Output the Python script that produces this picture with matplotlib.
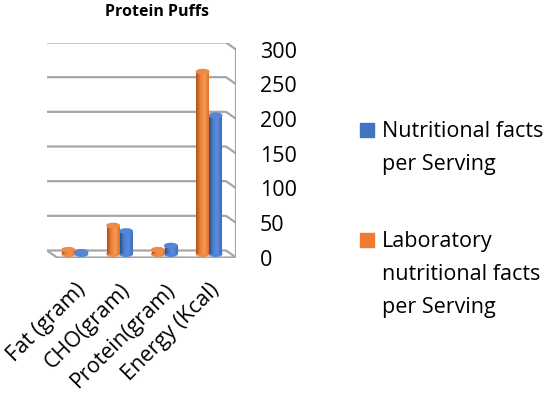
import numpy as np
import matplotlib.pyplot as plt
from matplotlib.colors import LinearSegmentedColormap
from matplotlib.patches import Ellipse, Rectangle

categories = ["Fat (gram)", "CHO(gram)", "Protein(gram)", "Energy (Kcal)"]
lab_values = [6, 41, 6, 263]
facts_values = [3, 33, 12, 200]
y_ticks = [0, 50, 100, 150, 200, 250, 300]
legend_labels = ["Nutritional facts\nper Serving",
                 "Laboratory\nnutritional facts\nper Serving"]

plt.rcParams["font.family"] = ["Open Sans", "DejaVu Sans"]

BLUE = "#4472C4"
ORANGE = "#ED7D31"
GRID = "#A6A6A6"
FS = 15.5

blue_cm = LinearSegmentedColormap.from_list("b", ["#2B4F8E", "#4E80D2", "#5A8BDB", "#3D69B8"])
orange_cm = LinearSegmentedColormap.from_list("o", ["#A9501B", "#EE8038", "#F59A55", "#E07026"])

W, H = 550, 396
fig = plt.figure(figsize=(W / 100, H / 100), dpi=100)

# plot area in pixels: back wall 47..226, depth 10px right / 7px down
left_px, wall_px, right_px = 47, 226, 236
top_px, zero_px, front_px = 42.5, 250.5, 257.5
ax = fig.add_axes([left_px / W, 1 - front_px / H,
                   (right_px - left_px) / W, (front_px - top_px) / H])

n = len(categories)
ux = n / (wall_px - left_px)          # data units per px in x
uy = 300 / (zero_px - top_px)         # data units per px in y
dx = 10 * ux
dy = 7 * uy
ax.axis("off")

# walls and floor
x0, x1 = -0.5, n - 0.5
for v in y_ticks:
    ax.plot([x0, x1, x1 + dx], [v, v, v - dy], color=GRID, lw=1.6,
            solid_joinstyle="miter", zorder=1)
ax.plot([x1 + dx, x1 + dx], [-dy, 300 - dy], color=GRID, lw=1.6, zorder=1)
ax.plot([x0, x0 + dx, x1 + dx], [0, -dy, -dy], color=GRID, lw=1.6, zorder=1)

# cylinders
bw = 12.5 * ux
off = 6.5 * ux
sx, sy = 0.55 * dx, 0.5 * dy
eh = 4.5 * uy
for vals, shift, cm, top_c in [(lab_values, -off, orange_cm, "#F08A45"),
                               (facts_values, off, blue_cm, "#5585D6")]:
    for i, v in enumerate(vals):
        xc = i + shift + sx
        base = -sy
        top = v - sy
        ax.add_patch(Ellipse((xc, base), bw, eh, color=cm(0.45), zorder=2))
        ax.imshow(np.linspace(0, 1, 64)[None, :], extent=[xc - bw / 2, xc + bw / 2, base, top],
                  cmap=cm, aspect="auto", interpolation="bilinear", zorder=3)
        ax.add_patch(Ellipse((xc, top), bw, eh, color=top_c, zorder=4))
ax.set_xlim(-0.5, n - 0.5 + dx)
ax.set_ylim(-dy, 300)

# value labels on right wall
for v in y_ticks:
    ax.annotate(str(v), xy=(x1 + dx, v - dy), xytext=(24 * 0.72, -2.5 * 0.72),
                textcoords="offset points", ha="left", va="center", fontsize=FS)

# category labels
for i, c in enumerate(categories):
    ax.annotate(c, xy=(i + dx, -dy), xytext=(3 * 0.72, -29 * 0.72),
                textcoords="offset points", ha="right", va="center",
                rotation=45, rotation_mode="anchor", fontsize=FS)

fig.text(157 / W, 1 - 12 / H, "Protein Puffs", ha="center", va="center",
         fontsize=11.5, fontweight="bold")

# legend
for (lab, col, base_px) in [(legend_labels[0], BLUE, 137), (legend_labels[1], ORANGE, 247)]:
    fig.add_artist(Rectangle((360 / W, 1 - base_px / H), 14 / W, 14 / H,
                             transform=fig.transFigure, color=col))
    for k, line in enumerate(lab.split("\n")):
        fig.text(382 / W, 1 - (base_px + 33 * k) / H, line, ha="left",
                 va="baseline", fontsize=FS)

fig.savefig("out.png", dpi=100)
